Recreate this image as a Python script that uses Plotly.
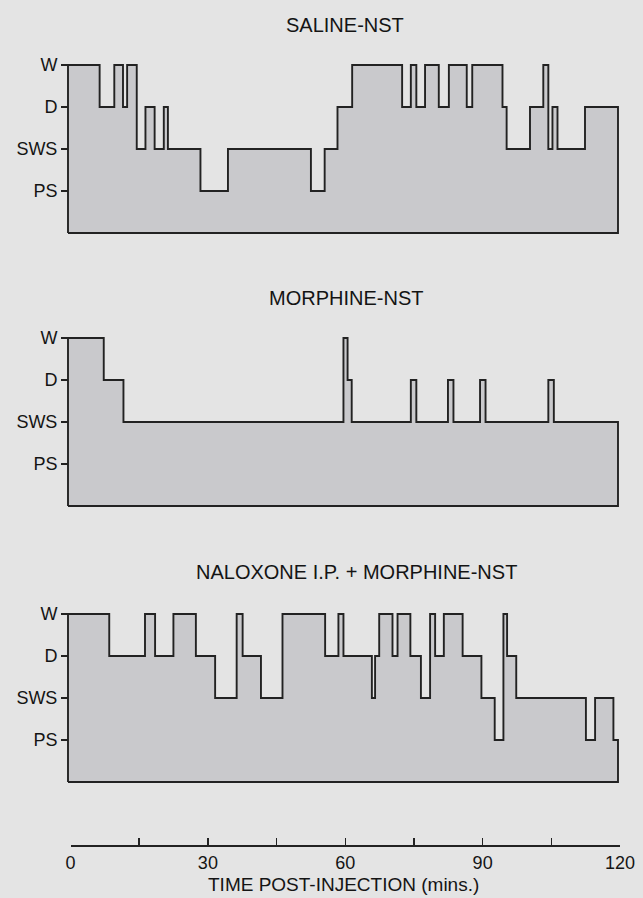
import plotly.graph_objects as go

# ---------------- data ----------------
STAGES = ["PS", "SWS", "D", "W"]          # tick labels, bottom to top
STAGE_VALUES = [1, 2, 3, 4]
END_TIME = 120

saline_times = [0, 6.9, 10.1, 12.0, 12.9, 15.0, 16.9, 18.9, 20.9, 21.8, 28.9, 34.9,
                53.0, 56.0, 58.8, 62.0, 72.9, 74.8, 76.0, 77.9, 80.9, 83.1, 87.0,
                88.2, 94.8, 95.7, 100.8, 103.7, 104.8, 105.7, 106.8, 112.8]
saline_stages = ["W", "D", "W", "D", "W", "SWS", "D", "SWS", "D", "SWS", "PS", "SWS",
                 "PS", "SWS", "D", "W", "D", "W", "D", "W", "D", "W", "D",
                 "W", "D", "SWS", "D", "W", "SWS", "D", "SWS", "D"]

morphine_times = [0, 7.8, 12.1, 60.1, 61.0, 61.9, 74.8, 76.0, 82.9, 84.1, 89.9,
                  91.1, 104.8, 106.0]
morphine_stages = ["W", "D", "SWS", "W", "D", "SWS", "D", "SWS", "D", "SWS", "D",
                   "SWS", "D", "SWS"]

naloxone_times = [0, 9.0, 16.8, 19.0, 23.0, 27.9, 32.1, 36.8, 38.1, 42.1, 46.8,
                  56.1, 59.0, 60.1, 66.3, 67.0, 67.9, 70.8, 71.9, 74.7, 77.0, 79.0,
                  80.1, 82.0, 86.1, 90.2, 93.1, 95.0, 95.8, 97.8, 113.0, 115.0, 119.0]
naloxone_stages = ["W", "D", "W", "D", "W", "D", "SWS", "W", "D", "SWS", "W",
                   "D", "W", "D", "SWS", "D", "W", "D", "W", "D", "SWS", "W",
                   "D", "W", "D", "SWS", "PS", "W", "D", "SWS", "PS", "SWS", "PS"]

panel_titles = ["SALINE-NST", "MORPHINE-NST", "NALOXONE I.P. + MORPHINE-NST"]
time_ticks = [0, 15, 30, 45, 60, 75, 90, 105, 120]
time_labels = ["0", "", "30", "", "60", "", "90", "", "120"]
x_title = "TIME POST-INJECTION (mins.)"

# ---------------- layout helpers ----------------
FW, FH = 643, 898
FONT = "Liberation Sans"
INK = "#222222"
TXT = "#141414"
FILL = "#c9c9cc"
BG = "#e4e4e4"
PX_LEVEL = 42.0


def fx(p):
    return p / FW


def fy(p):
    return 1 - p / FH


stage_map = dict(zip(STAGES, STAGE_VALUES))
series = [(saline_times, saline_stages), (morphine_times, morphine_stages),
          (naloxone_times, naloxone_stages)]
base_px = [233, 506, 782]            # pixel row of the panel floor
title_pos = [(345, 25), (346, 298), (356, 572)]

x_left, x_right = 68, 618
pad_min = 0.4
ppm = (x_right - x_left) / END_TIME

fig = go.Figure()
layout_axes = {}
annotations = []

for i, ((times, stages), base) in enumerate(zip(series, base_px)):
    k = "" if i == 0 else str(i + 1)
    vals = [stage_map[s] for s in stages]
    xs = [0] + list(times) + [END_TIME, END_TIME, 0]
    ys = [0] + vals + [vals[-1], 0, 0]
    fig.add_trace(go.Scatter(
        x=xs, y=ys, mode="lines", fill="toself", fillcolor=FILL,
        line=dict(shape="hv", color=INK, width=1.9),
        xaxis="x" + k, yaxis="y" + k, hoverinfo="skip", showlegend=False))
    y_lo, y_hi = -0.08, 4.12
    layout_axes["xaxis" + k] = dict(
        domain=[fx(x_left - pad_min * ppm), fx(x_right + pad_min * ppm)],
        range=[-pad_min, END_TIME + pad_min], visible=False, fixedrange=True,
        anchor="y" + k, automargin=False)
    layout_axes["yaxis" + k] = dict(
        domain=[fy(base - y_lo * PX_LEVEL), fy(base - y_hi * PX_LEVEL)],
        range=[y_lo, y_hi], tickvals=STAGE_VALUES, ticktext=STAGES,
        ticks="outside", ticklen=7, tickwidth=1.5, tickcolor=INK,
        showline=False, showgrid=False, zeroline=False, fixedrange=True,
        tickfont=dict(family=FONT, size=18, color=TXT),
        anchor="free", position=fx(x_left), automargin=False)
    tx, ty = title_pos[i]
    annotations.append(dict(
        text=panel_titles[i], x=fx(tx), y=fy(ty), xref="paper", yref="paper",
        xanchor="center", yanchor="middle", showarrow=False,
        font=dict(family=FONT, size=20, color=TXT)))

# bottom time axis
fig.add_trace(go.Scatter(x=[0, END_TIME], y=[0.5, 0.5], mode="markers",
                         marker=dict(opacity=0), xaxis="x4", yaxis="y4",
                         hoverinfo="skip", showlegend=False))
axis_px = 845
layout_axes["xaxis4"] = dict(
    domain=[fx(70.5), fx(620)], range=[0, END_TIME], anchor="y4",
    showline=True, linecolor=INK, linewidth=1.9, ticks="inside", ticklen=7,
    tickwidth=1.5, tickcolor=INK, tickvals=time_ticks, ticktext=time_labels,
    showgrid=False, zeroline=False, fixedrange=True, automargin=False,
    tickfont=dict(family=FONT, size=18, color=TXT))
layout_axes["yaxis4"] = dict(domain=[fy(axis_px), fy(axis_px - 10)], range=[0, 1],
                             visible=False, fixedrange=True, automargin=False)
annotations.append(dict(
    text=x_title, x=fx(343), y=fy(884), xref="paper", yref="paper",
    xanchor="center", yanchor="middle", showarrow=False,
    font=dict(family=FONT, size=19, color=TXT)))

fig.update_layout(
    width=FW, height=FH, margin=dict(l=0, r=0, t=0, b=0, autoexpand=False),
    paper_bgcolor=BG, plot_bgcolor="rgba(0,0,0,0)",
    annotations=annotations, **layout_axes)

fig.write_html(
    "out.html",
    config={"displayModeBar": False, "staticPlot": True},
    post_script="document.body.style.margin='0';"
                "document.body.style.background='%s';" % BG)
